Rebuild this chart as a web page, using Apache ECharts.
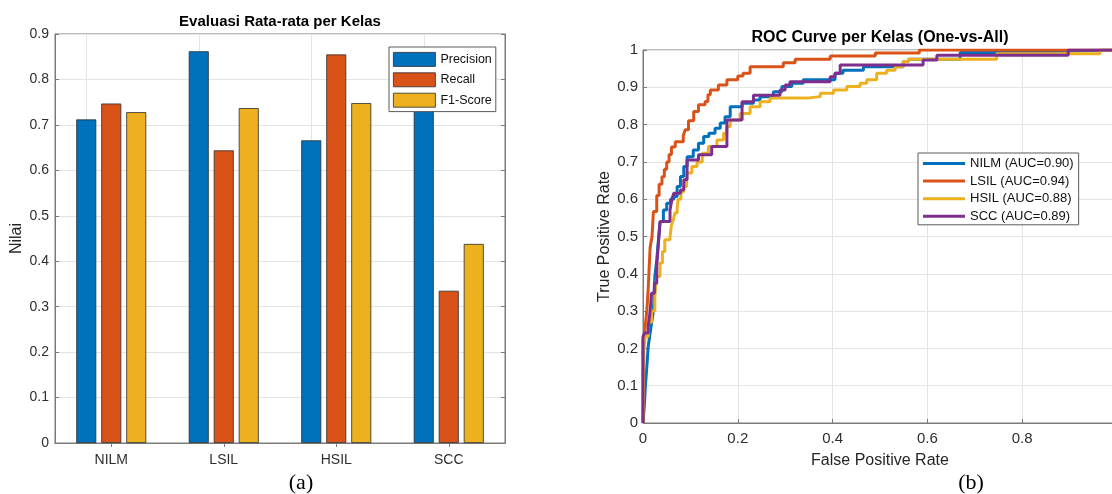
<!DOCTYPE html>
<html><head><meta charset="utf-8">
<script src="https://cdn.jsdelivr.net/npm/echarts@6/dist/echarts.min.js"></script>
<style>html,body{margin:0;padding:0;background:#fff}#c{width:1112px;height:494px}</style>
</head><body><div id="c"></div>
<script>
// ---- data: bar chart (a) ----
const categories = ['NILM', 'LSIL', 'HSIL', 'SCC'];
const precision = [0.712, 0.862, 0.666, 0.80];
const recall = [0.747, 0.644, 0.855, 0.335];
const f1score = [0.728, 0.737, 0.748, 0.438];
const barYTicks = [0, 0.1, 0.2, 0.3, 0.4, 0.5, 0.6, 0.7, 0.8, 0.9];

// ---- data: ROC curves (b), [FPR, TPR] ----
const rocNILM = [[0,0],[0.003,0.05],[0.005,0.098],[0.008,0.15],[0.011,0.205],[0.015,0.241],[0.018,0.268],[0.022,0.30],[0.025,0.393],[0.029,0.437],[0.032,0.482],[0.036,0.54],[0.043,0.571],[0.05,0.589],[0.058,0.60],[0.065,0.607],[0.072,0.634],[0.079,0.661],[0.086,0.688],[0.093,0.714],[0.106,0.732],[0.117,0.75],[0.128,0.768],[0.139,0.777],[0.152,0.79],[0.163,0.804],[0.173,0.821],[0.184,0.848],[0.209,0.857],[0.233,0.866],[0.247,0.875],[0.275,0.888],[0.293,0.902],[0.314,0.911],[0.338,0.92],[0.405,0.9375],[0.422,0.946],[0.465,0.955],[0.549,0.969],[0.56,0.975],[0.669,0.993],[0.79,0.997],[0.9,1.0],[1,1]];
const rocLSIL = [[0,0],[0,0.22],[0.004,0.25],[0.008,0.30],[0.011,0.36],[0.015,0.47],[0.019,0.50],[0.022,0.567],[0.029,0.61],[0.034,0.64],[0.04,0.66],[0.045,0.68],[0.05,0.70],[0.055,0.72],[0.06,0.74],[0.068,0.754],[0.085,0.77],[0.089,0.786],[0.096,0.81],[0.107,0.835],[0.117,0.853],[0.131,0.862],[0.137,0.88],[0.142,0.893],[0.159,0.906],[0.177,0.92],[0.2,0.93],[0.211,0.9375],[0.226,0.955],[0.296,0.966],[0.321,0.975],[0.395,0.984],[0.49,0.992],[0.583,1.0],[1,1]];
const rocHSIL = [[0,0],[0.002,0.196],[0.005,0.232],[0.011,0.27],[0.018,0.30],[0.025,0.34],[0.029,0.393],[0.036,0.429],[0.041,0.46],[0.046,0.491],[0.057,0.50],[0.06,0.531],[0.064,0.545],[0.067,0.563],[0.072,0.573],[0.074,0.60],[0.08,0.62],[0.086,0.634],[0.092,0.67],[0.103,0.688],[0.114,0.70],[0.125,0.723],[0.138,0.741],[0.156,0.759],[0.17,0.777],[0.177,0.795],[0.184,0.8125],[0.205,0.83],[0.226,0.848],[0.247,0.861],[0.268,0.871],[0.346,0.875],[0.374,0.884],[0.402,0.893],[0.43,0.902],[0.458,0.911],[0.472,0.92],[0.493,0.9375],[0.514,0.946],[0.532,0.955],[0.549,0.969],[0.56,0.975],[0.746,0.99],[0.964,1.0],[1,1]];
const rocSCC = [[0,0],[0,0.232],[0.004,0.241],[0.011,0.259],[0.015,0.30],[0.018,0.348],[0.024,0.375],[0.029,0.42],[0.032,0.473],[0.036,0.54],[0.057,0.571],[0.061,0.60],[0.065,0.616],[0.079,0.625],[0.086,0.652],[0.093,0.705],[0.117,0.719],[0.145,0.741],[0.177,0.8125],[0.209,0.861],[0.233,0.879],[0.289,0.893],[0.30,0.906],[0.31,0.915],[0.395,0.928],[0.405,0.9375],[0.416,0.96],[0.591,0.973],[0.62,0.986],[0.897,1.0],[1,1]];
const rocNames = ['NILM (AUC=0.90)', 'LSIL (AUC=0.94)', 'HSIL (AUC=0.88)', 'SCC (AUC=0.89)'];
const rocXTicks = [0, 0.2, 0.4, 0.6, 0.8, 1];
const rocYTicks = [0, 0.1, 0.2, 0.3, 0.4, 0.5, 0.6, 0.7, 0.8, 0.9, 1];

const FONT = 'Liberation Sans, Arial, Helvetica, sans-serif';
const AX = '#7a7a7a';
const GRIDC = '#e4e4e4';
const LBL = '#2e2e2e';
const C = { blue: '#0072BD', red: '#D95319', yellow: '#EDB120', purple: '#7E2F8E' };

const chart = echarts.init(document.getElementById('c'), null, { renderer: 'canvas' });

function axisBase(extra) {
  return Object.assign({
    axisLine: { show: true, lineStyle: { color: AX, width: 1 } },
    axisTick: { show: true, inside: true, length: 4, lineStyle: { color: AX } },
    axisLabel: { color: LBL, fontFamily: FONT },
    nameTextStyle: { color: '#262626', fontFamily: FONT, fontSize: 16 }
  }, extra);
}

const option = {
  animation: false,
  backgroundColor: '#ffffff',
  textStyle: { fontFamily: FONT },
  grid: [
    { left: 55, top: 34, width: 450, height: 409, show: true, borderColor: AX, borderWidth: 1, backgroundColor: 'transparent', containLabel: false, outerBoundsMode: 'none' },
    { left: 643, top: 50, width: 474, height: 373, show: true, borderColor: AX, borderWidth: 1, backgroundColor: 'transparent', containLabel: false, outerBoundsMode: 'none' }
  ],
  xAxis: [
    axisBase({ gridIndex: 0, type: 'category', data: categories, position: 'bottom',
      axisTick: { show: true, inside: true, alignWithLabel: true, length: 4, lineStyle: { color: AX } },
      axisLabel: { color: LBL, fontFamily: FONT, fontSize: 14, margin: 10 },
      splitLine: { show: false } }),
    axisBase({ gridIndex: 0, type: 'category', data: categories, position: 'top',
      axisTick: { show: true, inside: true, alignWithLabel: true, length: 4, lineStyle: { color: AX } },
      axisLabel: { show: false }, splitLine: { show: false } }),
    axisBase({ gridIndex: 1, type: 'value', min: rocXTicks[0], max: rocXTicks[rocXTicks.length - 1], interval: 0.2,
      name: 'False Positive Rate', nameLocation: 'middle', nameGap: 30,
      axisLabel: { color: LBL, fontFamily: FONT, fontSize: 15, margin: 8 },
      splitLine: { show: true, lineStyle: { color: GRIDC, width: 1 } } })
  ],
  yAxis: [
    axisBase({ gridIndex: 0, type: 'value', min: barYTicks[0], max: barYTicks[barYTicks.length - 1], interval: 0.1,
      name: 'Nilai', nameLocation: 'middle', nameGap: 30,
      axisLabel: { color: LBL, fontFamily: FONT, fontSize: 14, margin: 6 },
      splitLine: { show: true, lineStyle: { color: GRIDC, width: 1 } } }),
    axisBase({ gridIndex: 0, type: 'value', position: 'right', min: barYTicks[0], max: barYTicks[barYTicks.length - 1], interval: 0.1,
      axisLabel: { show: false }, splitLine: { show: false } }),
    axisBase({ gridIndex: 1, type: 'value', min: rocYTicks[0], max: rocYTicks[rocYTicks.length - 1], interval: 0.1,
      name: 'True Positive Rate', nameLocation: 'middle', nameGap: 30,
      axisLabel: { color: LBL, fontFamily: FONT, fontSize: 15, margin: 5 },
      splitLine: { show: true, lineStyle: { color: GRIDC, width: 1 } } })
  ],
  legend: [
    { data: ['Precision', 'Recall', 'F1-Score'], orient: 'vertical', left: 389, top: 47,
      padding: [5, 4, 4, 4], itemWidth: 42, itemHeight: 14, itemGap: 5.6, icon: 'rect',
      itemStyle: { borderColor: '#2b2b2b', borderWidth: 0.8 },
      backgroundColor: '#ffffff', borderColor: '#5a5a5a', borderWidth: 1, z: 10,
      textStyle: { color: '#111', fontSize: 12.5, fontFamily: FONT } },
    { data: rocNames, orient: 'vertical', left: 918, top: 153,
      padding: [4, 5, 2, 5], itemWidth: 42, itemHeight: 3, itemGap: 4.6, icon: 'rect',
      itemStyle: { borderWidth: 0 },
      backgroundColor: '#ffffff', borderColor: '#5a5a5a', borderWidth: 1, z: 10,
      textStyle: { color: '#111', fontSize: 13, fontFamily: FONT } }
  ],
  series: [
    { name: 'Precision', type: 'bar', xAxisIndex: 0, yAxisIndex: 0, data: precision,
      barWidth: 20, barGap: '25%', itemStyle: { color: C.blue, borderColor: '#2b2b2b', borderWidth: 0.8 },
      markLine: { silent: true, symbol: 'none', z: 1, animation: false, label: { show: false },
        lineStyle: { color: GRIDC, type: 'solid', width: 1 },
        data: categories.map(c => ({ xAxis: c })) } },
    { name: 'Recall', type: 'bar', xAxisIndex: 0, yAxisIndex: 0, data: recall,
      barWidth: 20, barGap: '25%', itemStyle: { color: C.red, borderColor: '#2b2b2b', borderWidth: 0.8 } },
    { name: 'F1-Score', type: 'bar', xAxisIndex: 0, yAxisIndex: 0, data: f1score,
      barWidth: 20, barGap: '25%', itemStyle: { color: C.yellow, borderColor: '#2b2b2b', borderWidth: 0.8 } },
    { name: rocNames[0], type: 'line', xAxisIndex: 2, yAxisIndex: 2, data: rocNILM, step: 'end', showSymbol: false, symbol: 'none',
      color: C.blue, lineStyle: { color: C.blue, width: 3 } },
    { name: rocNames[1], type: 'line', xAxisIndex: 2, yAxisIndex: 2, data: rocLSIL, step: 'end', showSymbol: false, symbol: 'none',
      color: C.red, lineStyle: { color: C.red, width: 3 } },
    { name: rocNames[2], type: 'line', xAxisIndex: 2, yAxisIndex: 2, data: rocHSIL, step: 'end', showSymbol: false, symbol: 'none',
      color: C.yellow, lineStyle: { color: C.yellow, width: 3 } },
    { name: rocNames[3], type: 'line', xAxisIndex: 2, yAxisIndex: 2, data: rocSCC, step: 'end', showSymbol: false, symbol: 'none',
      color: C.purple, lineStyle: { color: C.purple, width: 3 } }
  ],
  graphic: [
    { type: 'text', x: 280, y: 22, style: { text: 'Evaluasi Rata-rata per Kelas', font: 'bold 15px ' + FONT, fill: '#000', align: 'center', verticalAlign: 'middle' } },
    { type: 'text', x: 880, y: 38, style: { text: 'ROC Curve per Kelas (One-vs-All)', font: 'bold 16px ' + FONT, fill: '#000', align: 'center', verticalAlign: 'middle' } },
    { type: 'text', x: 301, y: 483, style: { text: '(a)', font: '22px Liberation Serif, Times New Roman, serif', fill: '#000', align: 'center', verticalAlign: 'middle' } },
    { type: 'text', x: 971, y: 483, style: { text: '(b)', font: '22px Liberation Serif, Times New Roman, serif', fill: '#000', align: 'center', verticalAlign: 'middle' } }
  ]
};
chart.setOption(option);
</script>
</body></html>
